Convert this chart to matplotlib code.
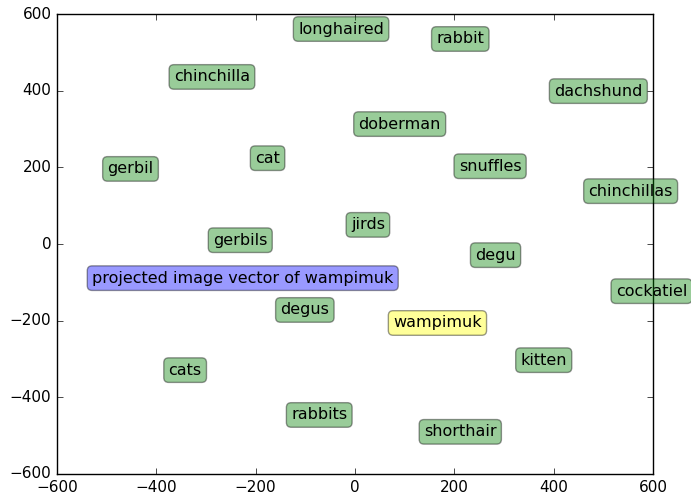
import matplotlib
matplotlib.use('Agg')
import matplotlib.pyplot as plt

words = ['longhaired', 'rabbit', 'chinchilla', 'dachshund', 'doberman', 'cat',
         'gerbil', 'snuffles', 'chinchillas', 'jirds', 'gerbils', 'degu',
         'cockatiel', 'degus', 'kitten', 'cats', 'rabbits', 'shorthair']
xs = [-28, 212, -288, 490, 90, -176, -452, 272, 555, 26, -231, 283,
      597, -101, 380, -342, -72, 212]
ys = [561, 535, 436, 399, 313, 224, 196, 203, 138, 50, 10, -29,
      -123, -172, -303, -329, -446, -490]

target_word = 'wampimuk'
target_xy = (166, -206)
projected_label = 'projected image vector of wampimuk'
projected_xy = (-226, -89)

plt.style.use('classic')
fig = plt.figure(figsize=(6.91, 4.94), dpi=100, facecolor='white')
ax = fig.add_axes([0.0825, 0.0405, 0.8625, 0.931])

for w, x, y in zip(words, xs, ys):
    ax.text(x, y, w, ha='center', va='center', fontsize=11.5,
            bbox=dict(boxstyle='round', fc='green', alpha=0.4))
ax.text(target_xy[0], target_xy[1], target_word, ha='center', va='center', fontsize=11.5,
        bbox=dict(boxstyle='round', fc='yellow', alpha=0.4))
ax.text(projected_xy[0], projected_xy[1], projected_label, ha='center', va='center',
        fontsize=11.5, bbox=dict(boxstyle='round', fc='blue', alpha=0.4))

ax.set_xlim(-600, 600)
ax.set_ylim(-600, 600)
ax.set_xticks(range(-600, 601, 200))
ax.set_yticks(range(-600, 601, 200))
ax.tick_params(labelsize=11)

fig.savefig('out.png', dpi=100, facecolor='white')
